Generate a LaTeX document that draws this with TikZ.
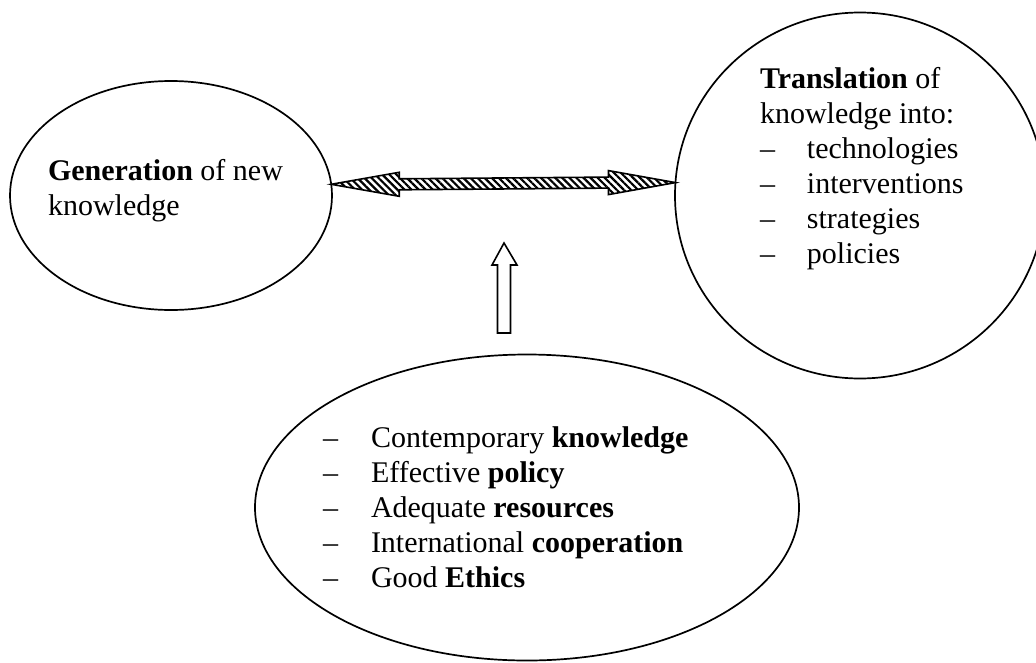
\documentclass[tikz,border=0pt]{standalone}
\usepackage{fontspec}
\setmainfont{Liberation Serif}
\usetikzlibrary{shapes.geometric,patterns.meta,calc}
\begin{document}
\begin{tikzpicture}[x=1pt,y=-1pt,
  bubble/.style={draw, ellipse, line width=1.7pt, inner sep=0pt, outer sep=0pt},
  label/.style={anchor=base west, inner sep=0pt, outer sep=0pt, font=\fontsize{30}{35}\selectfont},
  hatched/.style={draw, line width=1.6pt, line join=miter, pattern={Lines[angle=-45,distance=5pt,line width=2.2pt]}},
  hollow/.style={draw, line width=1.6pt, fill=white, line join=miter}]
\useasboundingbox (0,0) rectangle (1036,662);
% bubbles
\node[bubble, minimum width=322pt, minimum height=229pt] (gen) at (171,195.5) {};
\node[bubble, minimum width=370pt, minimum height=366pt] (tr) at (860,195.5) {};
\node[bubble, minimum width=544pt, minimum height=306pt] (req) at (527,507.5) {};
% texts
\node[label] (gentext) at (48,180) {\begin{tabular}[t]{@{}l@{}}\textbf{Generation} of new\\ knowledge\end{tabular}};
\node[label] (trtext) at (760,88) {\begin{tabular}[t]{@{}l@{\hspace{32pt}}l@{}}
\multicolumn{2}{@{}l@{}}{\textbf{Translation} of}\\
\multicolumn{2}{@{}l@{}}{knowledge into:}\\
-- & technologies\\
-- & interventions\\
-- & strategies\\
-- & policies
\end{tabular}};
\node[label] (reqtext) at (323,447) {\begin{tabular}[t]{@{}l@{\hspace{33pt}}l@{}}
-- & Contemporary \textbf{knowledge}\\
-- & Effective \textbf{policy}\\
-- & Adequate \textbf{resources}\\
-- & International \textbf{cooperation}\\
-- & Good \textbf{Ethics}
\end{tabular}};
% double arrow between the two bubbles
\coordinate (L) at (gen.4);
\coordinate (R) at (tr.176);
\path[hatched] (L) -- ($(L)+(68,-12)$) -- ($(L)+(68,-5.5)$) -- ($(R)+(-67,-5.5)$) -- ($(R)+(-67,-12)$)
  -- (R) -- ($(R)+(-67,12)$) -- ($(R)+(-67,5.5)$) -- ($(L)+(68,5.5)$) -- ($(L)+(68,12)$) -- cycle;
% upward arrow
\coordinate (up) at (504,243);
\path[hollow] (up) -- ($(up)+(13,22)$) -- ($(up)+(6.5,22)$) -- ($(up)+(6.5,90)$) -- ($(up)+(-6.5,90)$)
  -- ($(up)+(-6.5,22)$) -- ($(up)+(-12,22)$) -- cycle;
\end{tikzpicture}
\end{document}
